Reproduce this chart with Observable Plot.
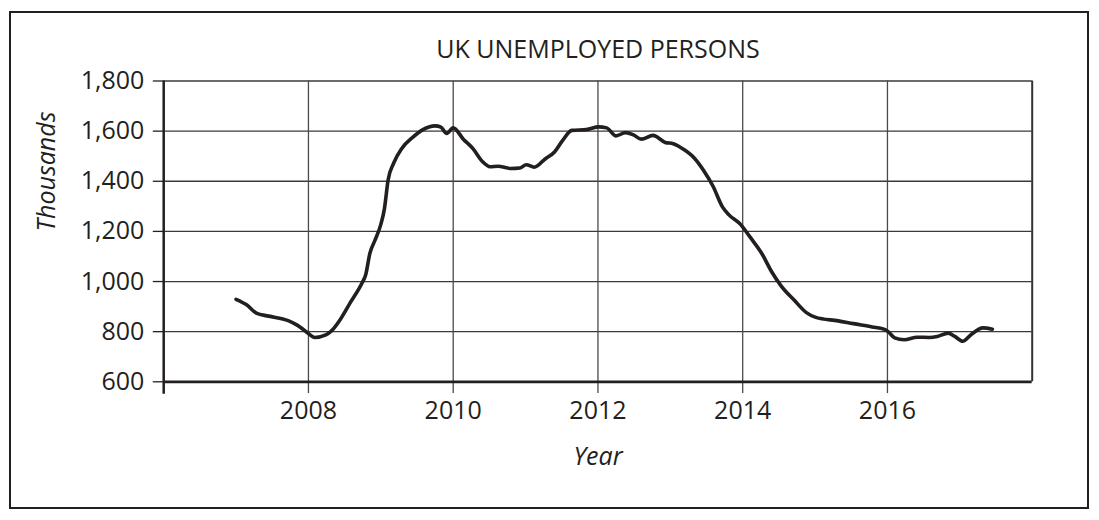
<!DOCTYPE html>
<html>
<head>
<meta charset="utf-8">
<script src="https://cdn.jsdelivr.net/npm/d3@7"></script>
<script src="https://cdn.jsdelivr.net/npm/@observablehq/plot@0.6"></script>
<style>
  html, body { margin: 0; padding: 0; background: #fff; overflow: hidden; }
  #wrap { position: relative; width: 1099px; height: 520px; overflow: hidden; }
  #frame { position: absolute; left: 8.6px; top: 11.4px; width: 1080.6px; height: 498px;
           border: 2.5px solid #231f20; box-sizing: border-box; }
  #chart { position: absolute; left: 0; top: 0; }
</style>
</head>
<body>
<div id="wrap"><div id="frame"></div><div id="chart"></div></div>
<script>
const years = [2007.00, 2007.15, 2007.28, 2007.45, 2007.72, 2007.85, 2007.96, 2008.09, 2008.24, 2008.31,
  2008.44, 2008.57, 2008.74, 2008.79, 2008.85, 2008.92, 2009.00, 2009.05, 2009.10, 2009.18,
  2009.29, 2009.44, 2009.57, 2009.75, 2009.83, 2009.91, 2010.00, 2010.14, 2010.27, 2010.40,
  2010.51, 2010.62, 2010.79, 2010.92, 2011.01, 2011.12, 2011.27, 2011.40, 2011.51, 2011.64,
  2011.84, 2012.01, 2012.12, 2012.25, 2012.38, 2012.49, 2012.60, 2012.76, 2012.93, 2013.04,
  2013.18, 2013.33, 2013.46, 2013.59, 2013.72, 2013.81, 2013.97, 2014.10, 2014.27, 2014.40,
  2014.53, 2014.71, 2014.88, 2015.01, 2015.32, 2015.53, 2015.79, 2015.95, 2016.01, 2016.10,
  2016.23, 2016.41, 2016.58, 2016.69, 2016.84, 2016.93, 2017.04, 2017.15, 2017.32, 2017.45];
const unemployed = [929, 906, 874, 862, 844, 825, 802, 777, 787, 801,
  849, 912, 994, 1026, 1114, 1165, 1228, 1291, 1404, 1474,
  1531, 1575, 1604, 1621, 1616, 1591, 1613, 1568, 1531, 1480,
  1458, 1460, 1451, 1453, 1466, 1456, 1489, 1517, 1562, 1603,
  1606, 1617, 1613, 1581, 1594, 1585, 1568, 1583, 1555, 1550,
  1528, 1493, 1443, 1380, 1298, 1266, 1228, 1178, 1109, 1039,
  983, 926, 876, 857, 843, 832, 819, 810, 800, 775,
  768, 778, 777, 781, 794, 781, 762, 787, 815, 810];
const yTicks = [600, 800, 1000, 1200, 1400, 1600, 1800];
const yGrid = [800, 1000, 1200, 1400, 1600, 1800];
const xTicks = [2008, 2010, 2012, 2014, 2016];
const xDomain = [2006, 2018];
const yDomain = [600, 1800];
const title = "UK UNEMPLOYED PERSONS";
const xLabel = "Year";
const yLabel = "Thousands";

const data = years.map((x, i) => ({x, y: unemployed[i]}));
const ink = "#231f20";
const fs = 25;

const chart = Plot.plot({
  width: 1099,
  height: 520,
  marginLeft: 163.2,
  marginRight: 67.3,
  marginTop: 80.5,
  marginBottom: 138.7,
  style: {fontFamily: "'Open Sans', sans-serif", fontSize: fs + "px", color: ink, background: "transparent", overflow: "visible"},
  x: {domain: xDomain},
  y: {domain: yDomain},
  marks: [
    Plot.gridY(yGrid, {stroke: "#3a3a3a", strokeOpacity: 1, strokeWidth: 1.3}),
    Plot.gridX(xTicks, {stroke: "#4a4a4a", strokeOpacity: 1, strokeWidth: 1.3}),
    Plot.ruleX([xDomain[1]], {stroke: "#333", strokeWidth: 2}),
    Plot.line(data, {x: "x", y: "y", curve: "monotone-x", stroke: ink, strokeWidth: 3.6, strokeLinejoin: "round"}),
    Plot.axisX(xTicks, {tickSize: 11.8, tickPadding: 7.5, stroke: "#4a4a4a", strokeWidth: 1.3, fill: ink, label: null, tickFormat: d => String(d)}),
    Plot.axisY(yTicks, {tickSize: 10.4, tickPadding: 9, stroke: ink, strokeWidth: 1.3, fill: ink, label: null, tickFormat: d3.format(",")}),
    Plot.ruleY([yDomain[0]], {stroke: ink, strokeWidth: 2.8}),
    Plot.ruleX([xDomain[0]], {stroke: ink, strokeWidth: 2.5, insetBottom: -12.4}),
    Plot.text([title], {text: d => d, frameAnchor: "top", dy: -23, lineAnchor: "bottom", fill: ink, fontSize: fs}),
    Plot.text([xLabel], {text: d => d, frameAnchor: "bottom", dy: 83, lineAnchor: "bottom", fill: ink, fontSize: fs, fontStyle: "italic"}),
    Plot.text([yLabel], {text: d => d, frameAnchor: "left", dx: -109, rotate: -90, lineAnchor: "bottom", fill: ink, fontSize: fs, fontStyle: "italic"})
  ]
});
document.getElementById("chart").appendChild(chart);
</script>
</body>
</html>
